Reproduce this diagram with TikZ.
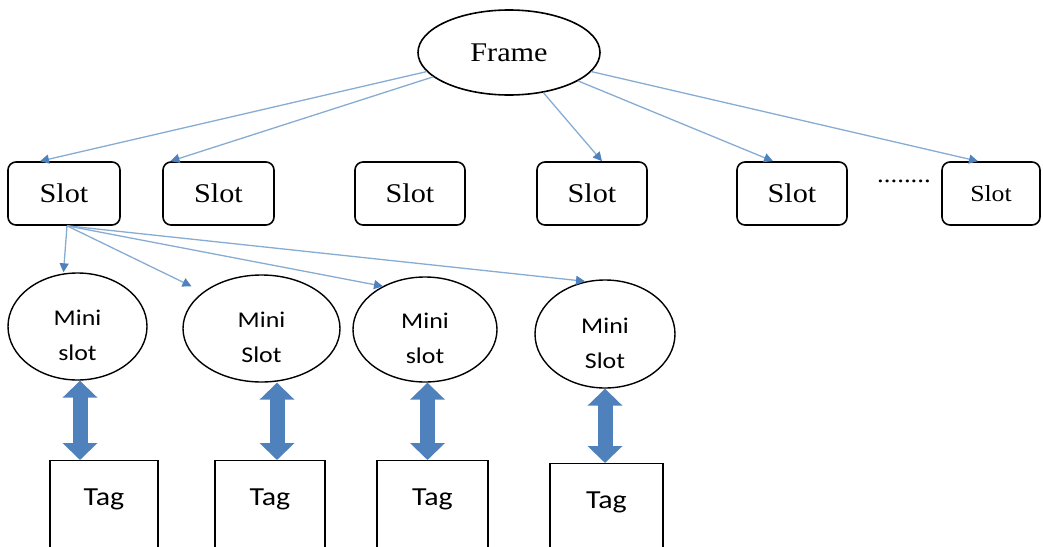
\documentclass[tikz,border=0pt]{standalone}
\usepackage{fontspec}
\setmainfont{Liberation Serif}
\newfontfamily\slotfont[FakeStretch=1.12]{Liberation Serif}
\newfontfamily\minifont[FakeStretch=1.15]{Carlito}
\usetikzlibrary{shapes.geometric,arrows.meta}
\definecolor{linkblue}{RGB}{135,172,210}
\definecolor{tipblue}{RGB}{79,129,189}
\newcommand{\minilabel}[1]{\raisebox{-15pt}[0pt][0pt]{\begin{tabular}{@{}c@{}}Mini\\#1\end{tabular}}}
\tikzset{
  framenode/.style={ellipse,draw,line width=1.6pt,inner sep=0pt,minimum width=182pt,minimum height=85pt,font=\slotfont\fontsize{27}{30}\selectfont},
  slotnode/.style={draw,line width=1.6pt,rounded corners=8pt,inner sep=0pt,minimum height=63pt,font=\slotfont\fontsize{27}{30}\selectfont},
  mininode/.style={ellipse,draw,line width=1.4pt,inner sep=0pt,font=\minifont\fontsize{22.5}{35}\selectfont},
  tagnode/.style={draw,line width=1.4pt,anchor=north,inner ysep=0pt,text height=45pt,text depth=70pt,font=\minifont\fontsize{26}{30}\selectfont},
  link/.style={draw=linkblue,line width=1.3pt,-{Triangle[width=9pt,length=9pt,color=tipblue]}},
  pairlink/.style={draw=tipblue,line width=15pt,{Triangle[width=34pt,length=17pt]}-{Triangle[width=34pt,length=17pt]}}
}
\begin{document}
\begin{tikzpicture}[x=1pt,y=-1pt]
\useasboundingbox (0,0) rectangle (1043,546);
\node[framenode] (frame) at (509,52.5) {Frame};
\foreach \n/\x/\w in {1/64/112, 2/218.5/111, 3/410/110, 4/592/110, 5/792/110}
{
    \node[slotnode, minimum width=\w pt] (s\n) at (\x,193.5) {Slot};
}
\node[slotnode, minimum width=98pt, font=\slotfont\fontsize{23}{26}\selectfont] (s6) at (991,193.5) {Slot};
\node[font=\slotfont\fontsize{24}{24}\selectfont] (dots) at (904,181) {........};
\foreach \n/\x/\y/\w/\h/\t in {1/77.5/326.5/139/107/slot, 2/261.5/328.5/157/107/Slot, 3/425/329.5/144/105/slot, 4/605/334/140/108/Slot}
{
    \node[mininode, minimum width=\w pt, minimum height=\h pt] (m\n) at (\x,\y) {\minilabel{\t}};
}
\foreach \n/\x/\y/\w in {1/104/460/108, 2/270/460/110, 3/432.5/460/111, 4/606.5/463/113}
{
    \node[tagnode, minimum width=\w pt] (t\n) at (\x,\y) {Tag};
}
\foreach \n/\dx in {1/-24, 2/-48, 4/10, 5/-19, 6/-13}
{
    \draw[link] (frame) -- ([xshift=\dx pt]s\n.north);
}
\foreach \n/\dx/\dy in {1/-14/0, 2/-70/-12, 3/-42/-10, 4/-20/-2}
{
    \draw[link] ([xshift=3pt]s1.south) -- ([xshift=\dx pt,yshift=\dy pt]m\n.north);
}
\foreach \n/\ma/\ta in {1/2.5/-24, 2/15.5/7, 3/2.5/-5, 4/0/-1.5}
{
    \draw[pairlink] ([xshift=\ma pt]m\n.south) -- ([xshift=\ta pt]t\n.north);
}
\end{tikzpicture}
\end{document}
